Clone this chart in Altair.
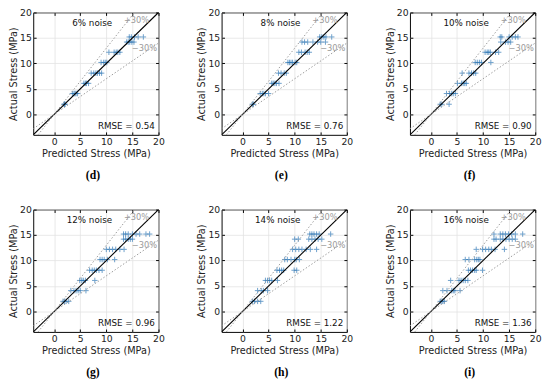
import altair as alt
import pandas as pd

# Actual stress levels (MPa) shared by all panels
levels = [2.0, 4.1, 6.1, 8.1, 10.2, 12.2, 14.2, 15.2]
tick_vals = [0, 5, 10, 15, 20]
band_ratio = 0.3

# Predicted values for each actual level, per panel
pred_d = [
    [1.9, 2.0, 2.1],
    [3.5, 3.8, 4.0, 4.2, 4.5],
    [5.7, 6.0, 6.2, 6.6],
    [7.1, 7.6, 8.0, 8.3, 8.7, 9.1],
    [9.0, 9.5, 9.8, 10.1],
    [10.5, 11.5, 11.9, 12.2, 12.6],
    [13.9, 14.2, 14.5, 14.9, 15.3],
    [14.4, 14.8, 15.4, 16.1, 17.1],
]
pred_e = [
    [1.9, 2.1],
    [3.4, 3.8, 4.1, 4.4, 5.0],
    [5.6, 5.9, 6.2, 6.5, 7.0],
    [6.9, 7.4, 8.0, 8.4],
    [8.7, 9.0, 9.3, 9.6, 10.1, 10.4],
    [10.8, 11.3, 12.0, 12.4, 12.8],
    [11.4, 11.9, 12.5, 13.5, 14.4, 15.0, 15.9],
    [14.8, 15.2, 15.6, 16.0, 17.1],
]
pred_f = [
    [1.8, 2.1, 3.5],
    [3.0, 3.6, 4.0, 4.3, 4.7],
    [5.1, 5.9, 6.2, 6.5, 6.8],
    [6.0, 7.3, 7.8, 8.2, 8.6],
    [8.5, 8.9, 9.3, 9.7, 11.5],
    [10.4, 10.8, 11.1, 11.4, 12.4, 13.0],
    [13.4, 14.3, 14.8, 15.3],
    [13.3, 13.6, 15.0, 15.6, 16.2, 16.7],
]
pred_g = [
    [1.7, 2.0, 2.3, 2.8],
    [3.2, 3.8, 4.2, 4.6, 5.0, 6.1],
    [4.9, 5.3, 5.6, 6.0, 7.8],
    [6.8, 7.3, 7.7, 8.1, 8.6, 9.2],
    [8.8, 9.2, 9.6, 10.2, 11.6],
    [10.0, 10.6, 11.2, 11.8, 12.6, 13.4],
    [13.3, 13.7, 14.2, 14.6, 15.0],
    [13.3, 13.7, 14.2, 15.0, 15.7, 16.4, 17.6, 18.3],
]
pred_h = [
    [1.9, 2.3, 2.9, 3.5],
    [2.9, 3.6, 4.0, 4.8],
    [4.4, 4.8, 5.2, 5.6, 6.7],
    [6.6, 7.1, 7.5, 7.9, 9.9, 10.4],
    [8.1, 8.6, 9.3, 10.0, 10.3, 10.9],
    [9.6, 10.2, 10.8, 11.4, 12.2, 13.0, 14.2],
    [10.0, 10.7, 12.7, 13.3, 13.9, 14.5, 15.2],
    [12.9, 13.3, 13.7, 14.2, 14.7, 16.9],
]
pred_i = [
    [1.8, 2.1, 2.3, 2.6],
    [2.3, 3.1, 4.0, 4.3, 4.6, 5.6],
    [3.8, 5.4, 5.8, 6.2, 6.6, 7.1],
    [7.2, 7.6, 8.0, 8.4, 8.7, 9.9],
    [6.6, 7.3, 8.4, 8.8, 9.1, 9.4],
    [8.7, 9.9, 10.5, 11.1, 11.6, 12.3, 14.1],
    [12.1, 12.5, 13.3, 13.8, 14.4, 15.0, 15.6, 16.2],
    [12.1, 13.3, 13.8, 14.3, 14.9, 15.5, 16.2, 17.6],
]

letters = ["(d)", "(e)", "(f)", "(g)", "(h)", "(i)"]
noise_labels = ["6% noise", "8% noise", "10% noise", "12% noise", "14% noise", "16% noise"]
rmse_labels = ["RMSE = 0.54", "RMSE = 0.76", "RMSE = 0.90", "RMSE = 0.96", "RMSE = 1.22", "RMSE = 1.36"]
all_preds = [pred_d, pred_e, pred_f, pred_g, pred_h, pred_i]

LO, HI = -4, 20
FONT = "DejaVu Sans"
W, H = 129, 126


def make_panel(letter, noise, rmse, preds):
    pts = pd.DataFrame(
        [{"pred": p, "actual": lv} for lv, ps in zip(levels, preds) for p in ps]
    )
    xs = alt.Scale(domain=[LO, HI], nice=False, zero=False)
    ys = alt.Scale(domain=[LO, HI], nice=False, zero=False)

    common = dict(
        values=tick_vals, offset=-3, tickSize=3, domain=False, tickColor="black",
        labelFont=FONT, labelFontSize=9.5, labelColor="#222", labelFlush=False,
        labelOverlap=False, titleFont=FONT, titleFontSize=10, titleColor="#222",
        titleFontWeight="normal", gridColor="#e2e2e2", gridWidth=0.8,
        minExtent=0,
    )
    xaxis = alt.Axis(orient="bottom", grid=True, labelPadding=2, titlePadding=3,
                     title="Predicted Stress (MPa)", **common)
    yaxis = alt.Axis(orient="left", grid=True, labelPadding=2, titlePadding=1,
                     title="Actual Stress (MPa)", **common)
    xtop = alt.Axis(orient="top", grid=False, labels=False, title=None, **common)
    yright = alt.Axis(orient="right", grid=False, labels=False, title=None, **common)

    points = alt.Chart(pts).mark_point(
        shape="M-1,0L1,0M0,-1L0,1", filled=False, size=32, strokeWidth=1,
        color="#2f78b6", opacity=0.7, clip=True,
    ).encode(
        x=alt.X("pred:Q", scale=xs, axis=xaxis),
        y=alt.Y("actual:Q", scale=ys, axis=yaxis),
    )

    diag_df = pd.DataFrame({"x": [LO, HI], "y": [LO, HI]})
    diag = alt.Chart(diag_df).mark_line(color="black", strokeWidth=1.1, clip=True).encode(
        x=alt.X("x:Q", scale=xs, axis=xtop),
        y=alt.Y("y:Q", scale=ys, axis=yright),
    )

    up = 1 + band_ratio
    dn = 1 - band_ratio
    band_df = pd.DataFrame({
        "x": [LO / up, HI / up, LO, HI],
        "y": [LO, HI, LO * dn, HI * dn],
        "line": ["up", "up", "down", "down"],
    })
    bands = alt.Chart(band_df).mark_line(
        color="#9a9a9a", strokeWidth=1, strokeDash=[1.5, 2], clip=True
    ).encode(
        x=alt.X("x:Q", scale=xs, axis=None),
        y=alt.Y("y:Q", scale=ys, axis=None),
        detail="line:N",
    )

    band_txt_df = pd.DataFrame({"x": [15.8, 17.3], "y": [18.5, 13.0], "t": ["+30%", "−30%"]})
    band_txt = alt.Chart(band_txt_df).mark_text(
        font=FONT, fontSize=8.5, color="#9a9a9a", align="center", baseline="middle"
    ).encode(
        x=alt.X("x:Q", scale=xs, axis=None),
        y=alt.Y("y:Q", scale=ys, axis=None),
        text="t:N",
    )

    noise_df = pd.DataFrame({"x": [11.1], "y": [17.9], "t": [noise]})
    noise_txt = alt.Chart(noise_df).mark_text(
        font=FONT, fontSize=9, color="#111", align="right", baseline="middle"
    ).encode(
        x=alt.X("x:Q", scale=xs, axis=None),
        y=alt.Y("y:Q", scale=ys, axis=None),
        text="t:N",
    )

    rmse_df = pd.DataFrame({"x": [19.3], "y": [-2.3], "t": [rmse]})
    rmse_txt = alt.Chart(rmse_df).mark_text(
        font=FONT, fontSize=9, color="#111", align="right", baseline="middle"
    ).encode(
        x=alt.X("x:Q", scale=xs, axis=None),
        y=alt.Y("y:Q", scale=ys, axis=None),
        text="t:N",
    )

    return alt.layer(points, diag, bands, band_txt, noise_txt, rmse_txt).resolve_axis(
        x="independent", y="independent"
    ).properties(
        width=W, height=H,
        title=alt.TitleParams(
            text=letter, orient="bottom", font="Liberation Serif", fontSize=12,
            fontWeight="bold", color="black", offset=12, frame="group", dx=-3,
        ),
    )


panels = [make_panel(l, n, r, p) for l, n, r, p in zip(letters, noise_labels, rmse_labels, all_preds)]

row1 = alt.hconcat(*panels[:3], spacing=32)
row2 = alt.hconcat(*panels[3:], spacing=32)
chart = alt.vconcat(row1, row2, spacing=23).properties(
    padding={"left": 0, "top": -7, "right": 0, "bottom": 0},
    background="white",
).configure_view(stroke="black", strokeWidth=1)

chart.save("out.html", embed_options={"renderer": "svg", "actions": False})
